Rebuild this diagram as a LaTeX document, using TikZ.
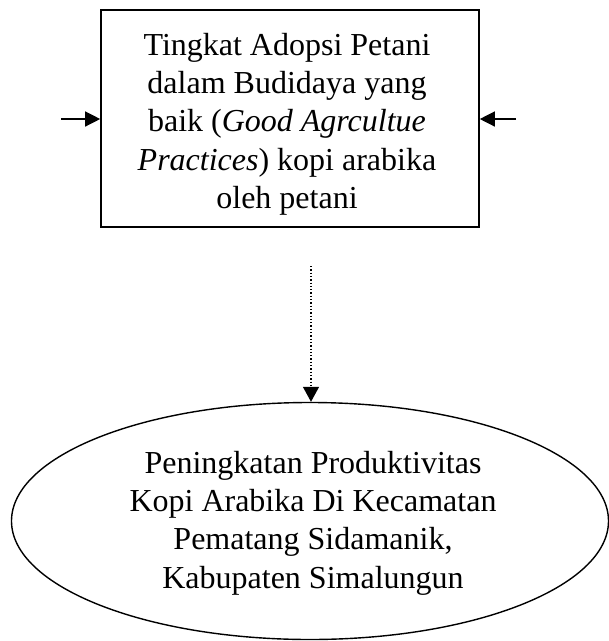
\documentclass[tikz,border=0pt]{standalone}
\usepackage{fontspec}
\setmainfont{Liberation Serif}
\usetikzlibrary{shapes.geometric,arrows.meta}
\begin{document}
\begin{tikzpicture}[x=1pt,y=-1pt,
  txt/.style={align=center,inner sep=0pt,font=\fontsize{32}{38.3}\selectfont},
  frame/.style={draw,line width=1.6pt,inner sep=0pt},
  arr/.style={line width=1.3pt,-{Triangle[length=15pt,width=15pt]}},
  darr/.style={line width=1.3pt,dotted,-{Triangle[length=15pt,width=16pt]}}]
\useasboundingbox (0,0) rectangle (609,641);
\node[frame,rectangle,minimum width=378pt,minimum height=217pt] (box) at (290,118.5) {};
\node[txt] (boxtext) at (287,124) {Tingkat Adopsi Petani\\dalam Budidaya yang\\baik (\textit{Good Agrcultue}\\\textit{Practices}) kopi arabika\\oleh petani};
\node[frame,ellipse,line width=1.4pt,minimum width=597pt,minimum height=237pt] (ell) at (310,521) {};
\node[txt] (elltext) at (313,523) {Peningkatan Produktivitas\\Kopi Arabika Di Kecamatan\\Pematang Sidamanik,\\Kabupaten Simalungun};
\coordinate (lin) at (61,119);
\coordinate (rin) at (516,119);
\coordinate (dtop) at (311,266);
\draw[arr] (lin) -- (lin -| box.west);
\draw[arr] (rin) -- (rin -| box.east);
\draw[darr] (dtop) -- (dtop |- ell.north);
\end{tikzpicture}
\end{document}
